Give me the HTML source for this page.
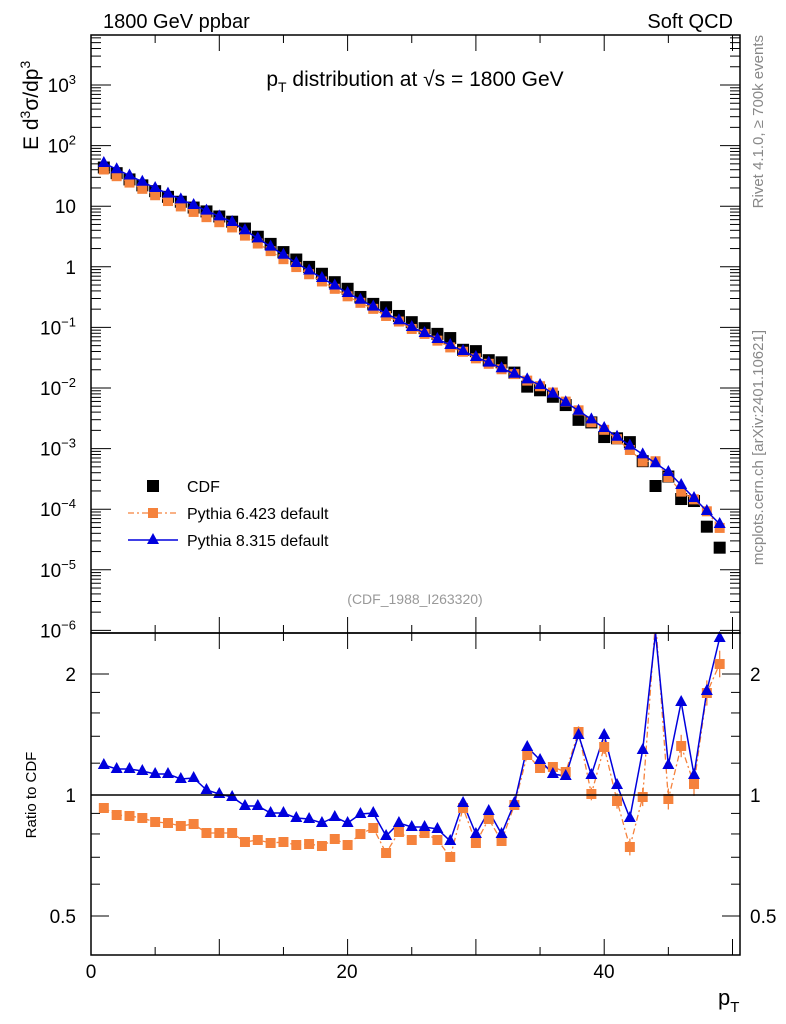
<!DOCTYPE html>
<html><head><meta charset="utf-8"><style>
body{margin:0;background:#fff}
svg{display:block;font-family:"Liberation Sans",sans-serif}
</style></head><body>
<svg id="s" width="786" height="1024" xmlns="http://www.w3.org/2000/svg">
<rect width="786" height="1024" fill="#fff"/>
<g id="g"></g>
<rect x="91" y="35" width="649" height="598" fill="none" stroke="#000" stroke-width="1.5"/>
<rect x="91" y="633" width="649" height="322" fill="none" stroke="#000" stroke-width="1.5"/>
<line x1="91" y1="795" x2="740" y2="795" stroke="#000" stroke-width="1.5"/>
<text x="103" y="28" font-size="20">1800 GeV ppbar</text>
<text x="733" y="28" font-size="20" text-anchor="end">Soft QCD</text>
<text x="415" y="86" font-size="21" text-anchor="middle">p<tspan font-size="14" dy="6">T</tspan><tspan dy="-6"> distribution at √s = 1800 GeV</tspan></text>
<text transform="translate(38,150) rotate(-90)" font-size="21" text-anchor="start">E  d<tspan font-size="14" dy="-8">3</tspan><tspan dy="8">σ/dp</tspan><tspan font-size="14" dy="-8">3</tspan></text>
<text transform="translate(763,35) rotate(-90)" font-size="15" fill="#888" text-anchor="end">Rivet 4.1.0, ≥ 700k events</text>
<text transform="translate(763,330) rotate(-90)" font-size="15" fill="#888" text-anchor="end">mcplots.cern.ch [arXiv:2401.10621]</text>
<text x="415" y="604" font-size="14" fill="#999" text-anchor="middle">(CDF_1988_I263320)</text>
<rect x="147" y="480" width="12" height="12" fill="#000"/>
<text x="187" y="492" font-size="16">CDF</text>
<line x1="128" y1="513" x2="178" y2="513" stroke="#f5823c" stroke-dasharray="6,3,2,3" stroke-width="1.3"/>
<rect x="148" y="508" width="10" height="10" fill="#f5823c"/>
<text x="187" y="519" font-size="16">Pythia 6.423 default</text>
<line x1="128" y1="540" x2="178" y2="540" stroke="#0000dd" stroke-width="1.5"/>
<polygon points="153,533 159,544 147,544" fill="#0000dd"/>
<text x="187" y="546" font-size="16">Pythia 8.315 default</text>
<text transform="translate(36,795) rotate(-90)" font-size="15" text-anchor="middle">Ratio to CDF</text>
<text x="91" y="978" font-size="19" text-anchor="middle">0</text>
<text x="347" y="978" font-size="19" text-anchor="middle">20</text>
<text x="604" y="978" font-size="19" text-anchor="middle">40</text>
<text x="718" y="1005" font-size="22">p<tspan font-size="15" dy="7">T</tspan></text>
<text x="76" y="681" font-size="19" text-anchor="end">2</text>
<text x="76" y="802" font-size="19" text-anchor="end">1</text>
<text x="76" y="923" font-size="19" text-anchor="end">0.5</text>
<text x="750" y="681" font-size="19">2</text>
<text x="750" y="802" font-size="19">1</text>
<text x="750" y="923" font-size="19">0.5</text>
</svg>
<script>
var g=document.getElementById('g'),h='';
function X(v){return 91+v*12.83}
var ylab=['10<tspan font-size="13" dy="-8">3</tspan>','10<tspan font-size="13" dy="-8">2</tspan>','10','1','10<tspan font-size="13" dy="-8">−1</tspan>','10<tspan font-size="13" dy="-8">−2</tspan>','10<tspan font-size="13" dy="-8">−3</tspan>','10<tspan font-size="13" dy="-8">−4</tspan>','10<tspan font-size="13" dy="-8">−5</tspan>','10<tspan font-size="13" dy="-8">−6</tspan>'];
for(var d=0;d<10;d++){var y=85+d*60.6;
 h+='<line x1="91" y1="'+y+'" x2="111" y2="'+y+'" stroke="#000"/><line x1="720" y1="'+y+'" x2="740" y2="'+y+'" stroke="#000"/>';
 h+='<text x="76" y="'+(y+7)+'" font-size="19" text-anchor="end">'+ylab[d]+'</text>';
 for(var k=2;k<10;k++){var yy=y+60.6-60.6*Math.log10(k); if(d==0)yy-=60.6; if(yy<35||yy>633)continue;
  h+='<line x1="91" y1="'+yy+'" x2="101" y2="'+yy+'" stroke="#000"/><line x1="730" y1="'+yy+'" x2="740" y2="'+yy+'" stroke="#000"/>';}
 if(d==0){for(var k=2;k<10;k++){var yy=y+60.6-60.6*Math.log10(k); h+='<line x1="91" y1="'+yy+'" x2="101" y2="'+yy+'" stroke="#000"/><line x1="730" y1="'+yy+'" x2="740" y2="'+yy+'" stroke="#000"/>';}}
}
for(var v=0;v<=50;v+=5){var x=X(v),L=(v%10==0)?16:8;
 h+='<line x1="'+x+'" y1="35" x2="'+x+'" y2="'+(35+L)+'" stroke="#000"/><line x1="'+x+'" y1="633" x2="'+x+'" y2="'+(633-L)+'" stroke="#000"/>';
 h+='<line x1="'+x+'" y1="633" x2="'+x+'" y2="'+(633+L)+'" stroke="#000"/><line x1="'+x+'" y1="955" x2="'+x+'" y2="'+(955-L)+'" stroke="#000"/>';}
[0.5,0.6,0.7,0.8,0.9,1,1.2,1.4,1.6,1.8,2].forEach(function(r){var y=795-121*Math.log2(r),L=(r==0.5||r==1||r==2)?18:9;
 h+='<line x1="91" y1="'+y+'" x2="'+(91+L)+'" y2="'+y+'" stroke="#000"/><line x1="'+(740-L)+'" y1="'+y+'" x2="740" y2="'+y+'" stroke="#000"/>';});
var kx=[1,5,11,16,20,25,30,35,40,45,49],ky=[163,188,222,263,293,327,357,385,428,472,524];
function B(x){for(var i=0;i<kx.length-1;i++)if(x<=kx[i+1])return ky[i]+(ky[i+1]-ky[i])*(x-kx[i])/(kx[i+1]-kx[i]);return 524}
var rb=[765,769,769,771,774,774,779,778,790,794,797,806,806,813,813,818,819,823,817,823,814,813,836,823,827,827,829,841,803,834,811,834,803,747,760,774,776,735,775,735,785,818,750,633,765,702,775,691,638];
var ro=[808,815,816,818,822,823,826,824,833,833,833,842,840,843,842,845,844,846,839,845,834,828,853,832,840,833,840,857,808,843,819,841,805,755,768,767,772,732,794,747,801,847,797,620,799,746,784,693,664];
var pb='',po='',mb='',mo='',rpb='',rpo='',sq='',tri='',osq='';
for(var i=0;i<49;i++){var v=i+1,x=X(v),yb=B(v),yc=yb+0.1508*(795-rb[i]);if(v==44)yc=486;var yo=yb+0.1508*(ro[i]-rb[i]);
 sq+='<rect x="'+(x-6)+'" y="'+(yc-6)+'" width="12" height="12" fill="#000"/>';
 mb+=(i?'L':'M')+x+','+yb;mo+=(i?'L':'M')+x+','+yo;
 osq+='<rect x="'+(x-5)+'" y="'+(yo-5)+'" width="10" height="10" fill="#f5823c"/>';
 tri+='<polygon points="'+x+','+(yb-7)+' '+(x+6)+','+(yb+4)+' '+(x-6)+','+(yb+4)+'" fill="#0000dd"/>';
 rpb+=(i?'L':'M')+x+','+rb[i];rpo+=(i?'L':'M')+x+','+ro[i];
 var e=v>33?(v-30)*0.7:0;
 if(e>0&&v!=44){h+='<line x1="'+x+'" y1="'+(ro[i]-e)+'" x2="'+x+'" y2="'+(ro[i]+e)+'" stroke="#f5823c" stroke-width="1.3"/>';}
 if(v!=44)osq+='<rect x="'+(x-5)+'" y="'+(ro[i]-5)+'" width="10" height="10" fill="#f5823c"/>';
 if(rb[i]>636)tri+='<polygon points="'+x+','+(rb[i]-7)+' '+(x+6)+','+(rb[i]+4)+' '+(x-6)+','+(rb[i]+4)+'" fill="#0000dd"/>';
}
h+=sq;
h+='<path d="'+mo+'" fill="none" stroke="#f5823c" stroke-width="1.3" stroke-dasharray="6,3,2,3"/>';
h+='<svg x="91" y="633" width="649" height="322" viewBox="91 633 649 322" overflow="hidden"><path d="'+rpo+'" fill="none" stroke="#f5823c" stroke-width="1.3" stroke-dasharray="6,3,2,3"/><path d="'+rpb+'" fill="none" stroke="#0000dd" stroke-width="1.5"/></svg>';
h+=osq;
h+='<path d="'+mb+'" fill="none" stroke="#0000dd" stroke-width="1.5"/>';
h+=tri;
g.innerHTML=h;
</script>
</body></html>
